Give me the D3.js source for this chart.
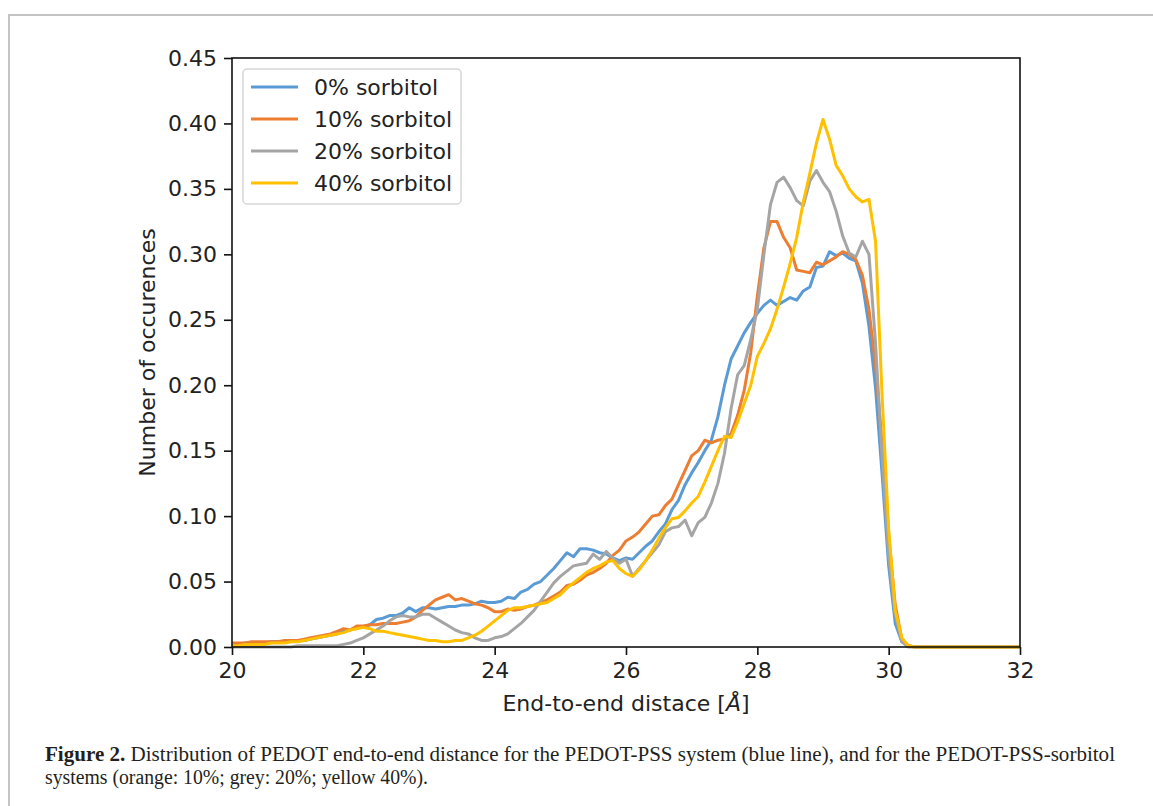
<!DOCTYPE html>
<html>
<head>
<meta charset="utf-8">
<script src="https://cdn.jsdelivr.net/npm/d3@7"></script>
<style>
    body { margin: 0; background: #fff; }
    svg { display: block; }
    .tick text { font-family: "DejaVu Sans", sans-serif; font-size: 22px; fill: #222; }
</style>
</head>
<body>
<div id="chart"></div>
<script>
// End-to-end distance (Å), sampled every 0.1 up to 30.5
const distance = [
    20.0, 20.1, 20.2, 20.3, 20.4, 20.5, 20.6, 20.7, 20.8, 20.9,
    21.0, 21.1, 21.2, 21.3, 21.4, 21.5, 21.6, 21.7, 21.8, 21.9,
    22.0, 22.1, 22.2, 22.3, 22.4, 22.5, 22.6, 22.7, 22.8, 22.9,
    23.0, 23.1, 23.2, 23.3, 23.4, 23.5, 23.6, 23.7, 23.8, 23.9,
    24.0, 24.1, 24.2, 24.3, 24.4, 24.5, 24.6, 24.7, 24.8, 24.9,
    25.0, 25.1, 25.2, 25.3, 25.4, 25.5, 25.6, 25.7, 25.8, 25.9,
    26.0, 26.1, 26.2, 26.3, 26.4, 26.5, 26.6, 26.7, 26.8, 26.9,
    27.0, 27.1, 27.2, 27.3, 27.4, 27.5, 27.6, 27.7, 27.8, 27.9,
    28.0, 28.1, 28.2, 28.3, 28.4, 28.5, 28.6, 28.7, 28.8, 28.9,
    29.0, 29.1, 29.2, 29.3, 29.4, 29.5, 29.6, 29.7, 29.8, 29.9,
    30.0, 30.1, 30.2, 30.3, 30.4, 30.5, 32.0
];

const sorbitol0 = [
    0.002, 0.002, 0.003, 0.003, 0.003, 0.003, 0.004, 0.004, 0.004, 0.005,
    0.005, 0.005, 0.006, 0.007, 0.008, 0.009, 0.010, 0.012, 0.013, 0.015,
    0.015, 0.017, 0.021, 0.022, 0.024, 0.024, 0.026, 0.030, 0.027, 0.030,
    0.030, 0.029, 0.030, 0.031, 0.031, 0.032, 0.032, 0.033, 0.035, 0.034,
    0.034, 0.035, 0.038, 0.037, 0.042, 0.044, 0.048, 0.050, 0.055, 0.060,
    0.066, 0.072, 0.069, 0.075, 0.075, 0.074, 0.072, 0.071, 0.068, 0.066,
    0.068, 0.067, 0.072, 0.077, 0.081, 0.088, 0.094, 0.105, 0.112, 0.124,
    0.133, 0.141, 0.150, 0.158, 0.176, 0.200, 0.220, 0.230, 0.240, 0.248,
    0.255, 0.261, 0.265, 0.261, 0.264, 0.267, 0.265, 0.272, 0.275, 0.290,
    0.291, 0.302, 0.299, 0.301, 0.297, 0.295, 0.278, 0.245, 0.198, 0.132,
    0.062, 0.018, 0.004, 0.001, 0.000, 0.000, 0.000
];

const sorbitol10 = [
    0.003, 0.003, 0.003, 0.004, 0.004, 0.004, 0.004, 0.004, 0.005, 0.005,
    0.005, 0.006, 0.007, 0.008, 0.009, 0.010, 0.012, 0.014, 0.013, 0.016,
    0.016, 0.017, 0.017, 0.018, 0.018, 0.018, 0.019, 0.020, 0.023, 0.028,
    0.032, 0.036, 0.038, 0.040, 0.036, 0.037, 0.035, 0.033, 0.032, 0.030,
    0.027, 0.027, 0.029, 0.028, 0.029, 0.031, 0.032, 0.034, 0.036, 0.039,
    0.042, 0.047, 0.048, 0.051, 0.055, 0.057, 0.060, 0.064, 0.070, 0.074,
    0.081, 0.084, 0.088, 0.094, 0.100, 0.101, 0.108, 0.113, 0.124, 0.135,
    0.146, 0.150, 0.158, 0.156, 0.158, 0.159, 0.163, 0.177, 0.196, 0.225,
    0.268, 0.305, 0.325, 0.325, 0.313, 0.305, 0.288, 0.287, 0.286, 0.294,
    0.292, 0.295, 0.298, 0.302, 0.300, 0.296, 0.284, 0.258, 0.215, 0.155,
    0.085, 0.032, 0.006, 0.001, 0.000, 0.000, 0.000
];

const sorbitol20 = [
    0.000, 0.000, 0.000, 0.000, 0.000, 0.000, 0.000, 0.000, 0.000, 0.000,
    0.001, 0.001, 0.001, 0.001, 0.001, 0.001, 0.001, 0.002, 0.003, 0.005,
    0.007, 0.010, 0.013, 0.016, 0.020, 0.023, 0.024, 0.023, 0.023, 0.025,
    0.025, 0.022, 0.019, 0.016, 0.013, 0.011, 0.010, 0.007, 0.005, 0.005,
    0.007, 0.008, 0.010, 0.014, 0.018, 0.023, 0.028, 0.035, 0.042, 0.049,
    0.054, 0.058, 0.062, 0.063, 0.064, 0.071, 0.067, 0.073, 0.068, 0.064,
    0.067, 0.054, 0.060, 0.066, 0.072, 0.078, 0.088, 0.091, 0.092, 0.097,
    0.085, 0.095, 0.099, 0.110, 0.125, 0.148, 0.182, 0.208, 0.215, 0.235,
    0.258, 0.300, 0.338, 0.355, 0.359, 0.351, 0.341, 0.337, 0.356, 0.364,
    0.355, 0.348, 0.333, 0.314, 0.301, 0.298, 0.310, 0.300, 0.232, 0.145,
    0.070, 0.025, 0.004, 0.000, 0.000, 0.000, 0.000
];

const sorbitol40 = [
    0.001, 0.001, 0.002, 0.002, 0.002, 0.002, 0.003, 0.003, 0.003, 0.004,
    0.004, 0.005, 0.006, 0.007, 0.008, 0.009, 0.010, 0.011, 0.013, 0.014,
    0.015, 0.014, 0.012, 0.012, 0.011, 0.010, 0.009, 0.008, 0.007, 0.006,
    0.005, 0.005, 0.004, 0.004, 0.005, 0.005, 0.007, 0.009, 0.012, 0.016,
    0.020, 0.024, 0.028, 0.030, 0.030, 0.031, 0.032, 0.033, 0.034, 0.037,
    0.040, 0.045, 0.049, 0.053, 0.057, 0.060, 0.062, 0.065, 0.066, 0.060,
    0.056, 0.054, 0.059, 0.066, 0.074, 0.083, 0.091, 0.098, 0.099, 0.104,
    0.110, 0.115, 0.126, 0.138, 0.150, 0.161, 0.160, 0.172, 0.186, 0.200,
    0.222, 0.232, 0.243, 0.258, 0.275, 0.293, 0.313, 0.340, 0.362, 0.385,
    0.403, 0.388, 0.368, 0.360, 0.350, 0.344, 0.340, 0.342, 0.310, 0.192,
    0.090, 0.028, 0.007, 0.001, 0.000, 0.000, 0.000
];

const seriesNames = ["0% sorbitol", "10% sorbitol", "20% sorbitol", "40% sorbitol"];
const seriesValues = [sorbitol0, sorbitol10, sorbitol20, sorbitol40];
const seriesColors = ["#5b9bd5", "#ed7d31", "#a5a5a5", "#ffc000"];

const xTicks = [20, 22, 24, 26, 28, 30, 32];
const yTicks = [0.00, 0.05, 0.10, 0.15, 0.20, 0.25, 0.30, 0.35, 0.40, 0.45];

const captionLine1 = "Distribution of PEDOT end-to-end distance for the PEDOT-PSS system (blue line), and for the PEDOT-PSS-sorbitol";
const captionLine2 = "systems (orange: 10%; grey: 20%; yellow 40%).";

const width = 1153, height = 806;
const margin = {left: 232, right: 133, top: 58, bottom: 159};

const svg = d3.select("#chart").append("svg")
    .attr("width", width)
    .attr("height", height);

// page frame (top and left edges only are visible)
svg.append("path")
    .attr("d", `M9,${height} V15 H${width}`)
    .attr("fill", "none")
    .attr("stroke", "#c4c4c4")
    .attr("stroke-width", 2);

const x = d3.scaleLinear().domain([20, 32]).range([margin.left, width - margin.right]);
const y = d3.scaleLinear().domain([0, 0.45]).range([height - margin.bottom, margin.top]);

const line = d3.line()
    .x((d, i) => x(distance[i]))
    .y(d => y(d));

svg.append("g")
    .selectAll("path")
    .data(seriesValues)
    .enter().append("path")
    .attr("d", line)
    .attr("fill", "none")
    .attr("stroke", (d, i) => seriesColors[i])
    .attr("stroke-width", 3)
    .attr("stroke-linejoin", "round");

// axes
const xAxis = svg.append("g")
    .attr("transform", `translate(0,${height - margin.bottom})`)
    .call(d3.axisBottom(x).tickValues(xTicks).tickFormat(d3.format("d")).tickSize(8).tickPadding(7));

const yAxis = svg.append("g")
    .attr("transform", `translate(${margin.left},0)`)
    .call(d3.axisLeft(y).tickValues(yTicks).tickFormat(d3.format(".2f")).tickSize(8).tickPadding(7));

[xAxis, yAxis].forEach(g => {
    g.select(".domain").remove();
    g.selectAll(".tick line").attr("stroke", "#111").attr("stroke-width", 1.6);
});

svg.append("rect")
    .attr("x", margin.left)
    .attr("y", margin.top)
    .attr("width", width - margin.left - margin.right)
    .attr("height", height - margin.top - margin.bottom)
    .attr("fill", "none")
    .attr("stroke", "#111")
    .attr("stroke-width", 1.6);

// axis labels
const xLabel = svg.append("text")
    .attr("x", (margin.left + width - margin.right) / 2)
    .attr("y", 711)
    .attr("text-anchor", "middle")
    .attr("font-family", "DejaVu Sans, sans-serif")
    .attr("font-size", 22)
    .attr("fill", "#222");
xLabel.append("tspan").text("End-to-end distace [");
xLabel.append("tspan").attr("font-style", "italic").text("Å");
xLabel.append("tspan").text("]");

svg.append("text")
    .attr("transform", `translate(155,${(margin.top + height - margin.bottom) / 2}) rotate(-90)`)
    .attr("text-anchor", "middle")
    .attr("font-family", "DejaVu Sans, sans-serif")
    .attr("font-size", 22)
    .attr("fill", "#222")
    .text("Number of occurences");

// legend
const legend = svg.append("g");

legend.append("rect")
    .attr("x", 243)
    .attr("y", 69)
    .attr("width", 218)
    .attr("height", 135)
    .attr("rx", 4)
    .attr("fill", "#fff")
    .attr("fill-opacity", 0.8)
    .attr("stroke", "#d6d6d6")
    .attr("stroke-width", 1.5);

const rows = legend.selectAll("g.row")
    .data(seriesNames)
    .enter().append("g")
    .attr("class", "row")
    .attr("transform", (d, i) => `translate(0,${87 + i * 32})`);

rows.append("line")
    .attr("x1", 251)
    .attr("x2", 298)
    .attr("stroke", (d, i) => seriesColors[i])
    .attr("stroke-width", 3);

rows.append("text")
    .attr("x", 314)
    .attr("dy", "0.36em")
    .attr("font-family", "DejaVu Sans, sans-serif")
    .attr("font-size", 22)
    .attr("fill", "#222")
    .text(d => d);

// caption
const cap1 = svg.append("text")
    .attr("x", 45)
    .attr("y", 761)
    .attr("font-family", "Liberation Serif, serif")
    .attr("font-size", 20)
    .attr("fill", "#231f20")
    .attr("textLength", 1070)
    .attr("lengthAdjust", "spacingAndGlyphs");
cap1.append("tspan").attr("font-weight", "bold").text("Figure 2.");
cap1.append("tspan").text(" " + captionLine1);

svg.append("text")
    .attr("x", 45)
    .attr("y", 784)
    .attr("font-family", "Liberation Serif, serif")
    .attr("font-size", 20)
    .attr("fill", "#231f20")
    .attr("textLength", 383)
    .attr("lengthAdjust", "spacingAndGlyphs")
    .text(captionLine2);
</script>
</body>
</html>
